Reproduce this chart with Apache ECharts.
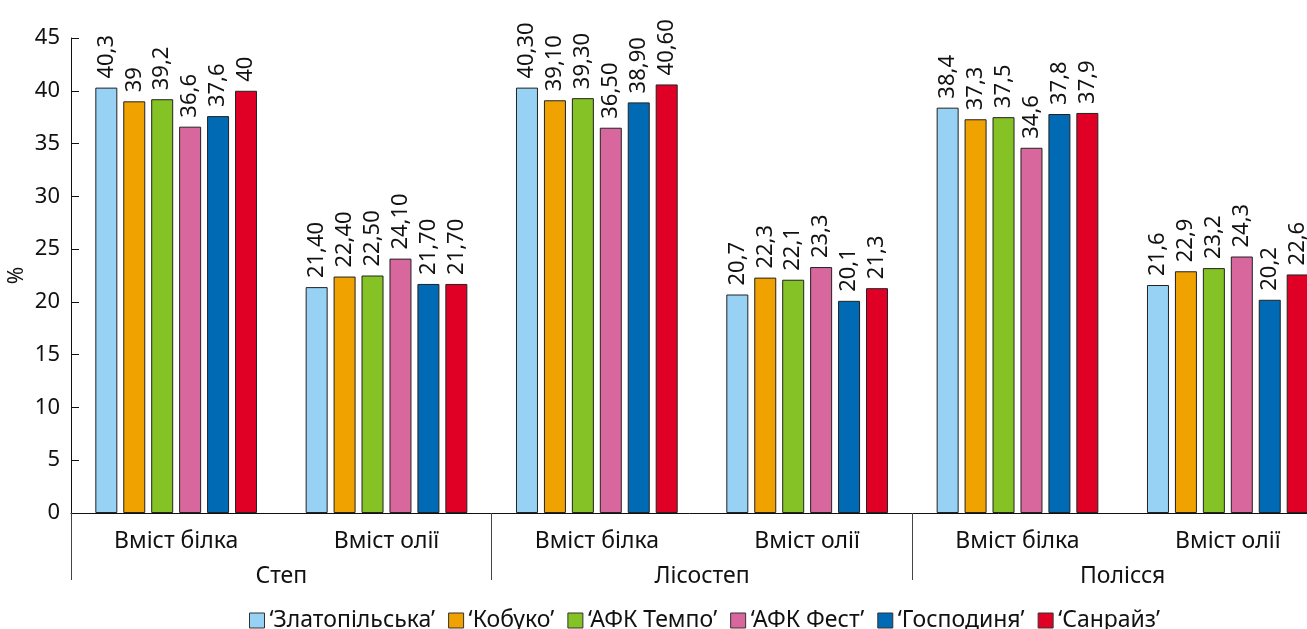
<!DOCTYPE html>
<html>
<head>
<meta charset="utf-8">
<script src="https://cdn.jsdelivr.net/npm/echarts@6/dist/echarts.min.js"></script>
<style>
  html, body { margin: 0; padding: 0; background: #fff; }
  #chart { width: 1307px; height: 629px; }
</style>
</head>
<body>
<div id="chart"></div>
<script>
// Groups along the x axis
const categories = ['Вміст білка', 'Вміст олії', 'Вміст білка', 'Вміст олії', 'Вміст білка', 'Вміст олії'];
const regions = ['Степ', 'Лісостеп', 'Полісся'];

// Varieties (one series each)
const seriesNames = ['‘Златопільська’', '‘Кобуко’', '‘АФК Темпо’', '‘АФК Фест’', '‘Господиня’', '‘Санрайз’'];

// Values per variety across the six groups
const zlatopilska = [40.3, 21.4, 40.3, 20.7, 38.4, 21.6];
const kobuko      = [39.0, 22.4, 39.1, 22.3, 37.3, 22.9];
const afkTempo    = [39.2, 22.5, 39.3, 22.1, 37.5, 23.2];
const afkFest     = [36.6, 24.1, 36.5, 23.3, 34.6, 24.3];
const hospodynia  = [37.6, 21.7, 38.9, 20.1, 37.8, 20.2];
const sanraiz     = [40.0, 21.7, 40.6, 21.3, 37.9, 22.6];

// Fixed decimals used for labels in each group (null = as is)
const labelDecimals = [null, 2, 2, null, null, null];

// Y axis ticks
const yMin = 0, yMax = 45, yStep = 5;

const seriesValues = [zlatopilska, kobuko, afkTempo, afkFest, hospodynia, sanraiz];
const colors = ['#97d1f3', '#f0a200', '#84c225', '#d8679e', '#006bb4', '#e10025'];

const FONT = '"Noto Sans", sans-serif';

function fmt(v, idx) {
  const d = labelDecimals[idx];
  const s = d == null ? String(v) : v.toFixed(d);
  return s.replace('.', ',');
}

const chart = echarts.init(document.getElementById('chart'), null, { renderer: 'canvas' });

chart.setOption({
  animation: false,
  textStyle: { fontFamily: FONT, color: '#111' },
  grid: { left: 71, top: 38, bottom: 116, width: 1262, outerBoundsMode: 'none', containLabel: false },
  legend: {
    data: seriesNames,
    left: 244,
    top: 604,
    icon: 'rect',
    itemWidth: 15,
    itemHeight: 15,
    itemGap: 13,
    itemStyle: { borderColor: '#333', borderWidth: 1 },
    textStyle: { fontFamily: FONT, fontSize: 23, color: '#111' }
  },
  xAxis: [
    {
      type: 'category',
      data: categories,
      position: 'bottom',
      axisLine: { show: true, lineStyle: { color: '#111', width: 1 } },
      axisTick: { show: false },
      axisLabel: { interval: 0, margin: 17, fontFamily: FONT, fontSize: 23, color: '#111' }
    },
    {
      type: 'category',
      data: regions,
      position: 'bottom',
      axisLine: { show: false },
      axisTick: { show: true, length: 67, lineStyle: { color: '#444', width: 1 } },
      axisLabel: { interval: 0, margin: 52, fontFamily: FONT, fontSize: 23, color: '#111' }
    }
  ],
  yAxis: {
    type: 'value',
    min: yMin,
    max: yMax,
    interval: yStep,
    name: '%',
    nameLocation: 'middle',
    nameGap: 43,
    nameMoveOverlap: false,
    nameRotate: 90,
    nameTextStyle: { fontFamily: FONT, fontSize: 21, color: '#111' },
    splitLine: { show: false },
    axisLine: { show: true, lineStyle: { color: '#111', width: 1 } },
    axisTick: { show: true, inside: true, length: 8, lineStyle: { color: '#111' } },
    axisLabel: { margin: 11, fontFamily: FONT, fontSize: 22, color: '#111' }
  },
  series: seriesNames.map((name, i) => ({
    name,
    type: 'bar',
    xAxisIndex: 0,
    data: seriesValues[i],
    barWidth: 22,
    barGap: '27%',
    itemStyle: { color: colors[i], borderColor: '#222', borderWidth: 1 },
    label: {
      show: true,
      position: 'top',
      rotate: 90,
      align: 'left',
      verticalAlign: 'middle',
      distance: 9,
      fontFamily: FONT,
      fontSize: 22,
      color: '#111',
      formatter: p => fmt(p.value, p.dataIndex)
    }
  }))
});
</script>
</body>
</html>
